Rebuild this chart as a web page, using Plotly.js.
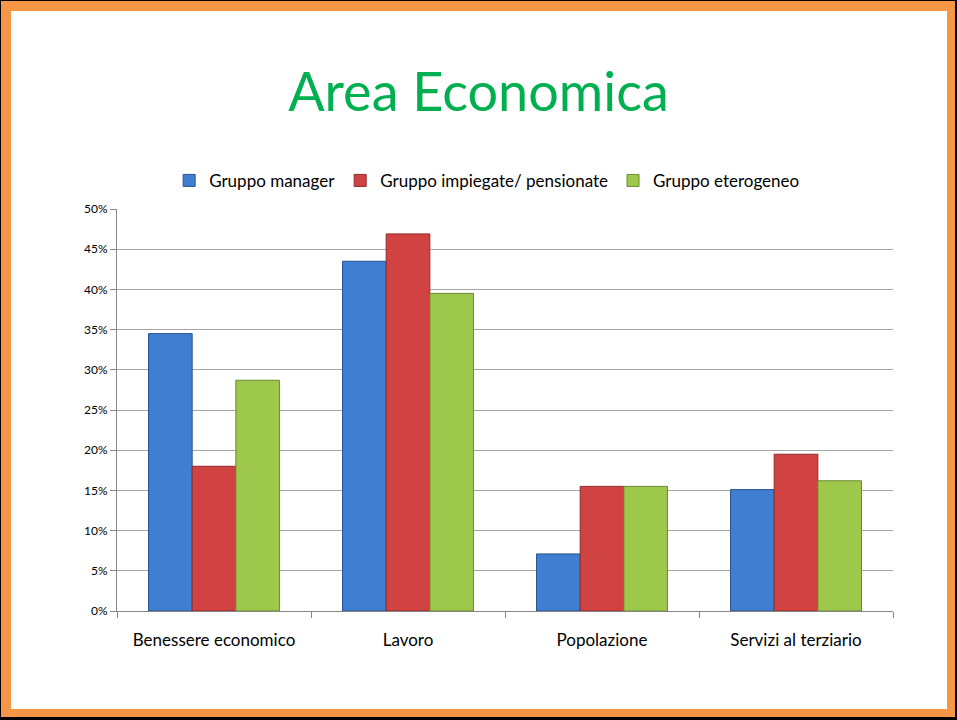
<!DOCTYPE html>
<html>
<head>
<meta charset="utf-8">
<script src="https://cdn.plot.ly/plotly-3.0.1.min.js"></script>
<style>
  html, body { margin: 0; padding: 0; background: #000; width: 957px; height: 720px; overflow: hidden; }
  #orange { position: absolute; left: 1px; top: 1px; width: 954px; height: 716px; background: #F79646; }
  #white { position: absolute; left: 11px; top: 11px; width: 936px; height: 698px; background: #fff; }
  #chart { position: absolute; left: 0; top: 0; width: 957px; height: 720px; }
</style>
</head>
<body>
<div id="orange"></div>
<div id="white"></div>
<div id="chart"></div>
<script>
const categories = ["Benessere economico", "Lavoro", "Popolazione", "Servizi al terziario"];
const seriesNames = ["Gruppo manager", "Gruppo impiegate/ pensionate", "Gruppo eterogeneo"];
const manager = [0.345, 0.435, 0.071, 0.151];
const impiegate = [0.180, 0.469, 0.155, 0.195];
const eterogeneo = [0.287, 0.395, 0.155, 0.162];
const yTicks = [0, 0.05, 0.10, 0.15, 0.20, 0.25, 0.30, 0.35, 0.40, 0.45, 0.50];

const fills = ["#3F7ED0", "#D14343", "#9DC84B"];
const edges = ["#2A5590", "#8E2A2A", "#6C8A30"];
const seriesValues = [manager, impiegate, eterogeneo];

const traces = seriesValues.map((vals, i) => ({
  type: "bar",
  name: seriesNames[i],
  x: categories,
  y: vals,
  marker: { color: fills[i], line: { color: edges[i], width: 1 } },
  hoverinfo: "skip"
}));

const layout = {
  width: 957, height: 720,
  paper_bgcolor: "rgba(0,0,0,0)",
  plot_bgcolor: "rgba(0,0,0,0)",
  margin: { l: 117, r: 64, t: 209, b: 109, pad: 0 },
  font: { family: "Lato, 'Open Sans', sans-serif", color: "#000" },
  title: {
    text: "Area Economica",
    font: { family: "Lato, 'Open Sans', sans-serif", size: 54, color: "#00B050" },
    x: 0.5, xanchor: "center", xref: "container",
    y: 0.872, yanchor: "middle", yref: "container"
  },
  barmode: "group",
  bargap: 0.325,
  bargroupgap: 0,
  showlegend: true,
  legend: {
    orientation: "h",
    x: 0.477, xanchor: "center",
    y: 1.07, yanchor: "middle",
    font: { size: 17, family: "Lato, 'Open Sans', sans-serif" },
    itemwidth: 30,
    traceorder: "normal"
  },
  xaxis: {
    type: "category",
    tickson: "boundaries",
    ticks: "outside",
    ticklen: 6,
    tickcolor: "#868686",
    showline: true,
    linecolor: "#868686",
    linewidth: 1,
    showgrid: false,
    tickfont: { size: 17 },
    ticklabelstandoff: 14
  },
  yaxis: {
    range: [0, 0.5],
    tickvals: yTicks,
    tickformat: ".0%",
    ticks: "outside",
    ticklen: 6,
    tickcolor: "#868686",
    showline: true,
    linecolor: "#868686",
    showgrid: true,
    gridcolor: "#A6A6A6",
    gridwidth: 1,
    zeroline: false,
    tickfont: { size: 12 }
  }
};

Plotly.newPlot("chart", traces, layout, { displayModeBar: false, staticPlot: true });
</script>
</body>
</html>
